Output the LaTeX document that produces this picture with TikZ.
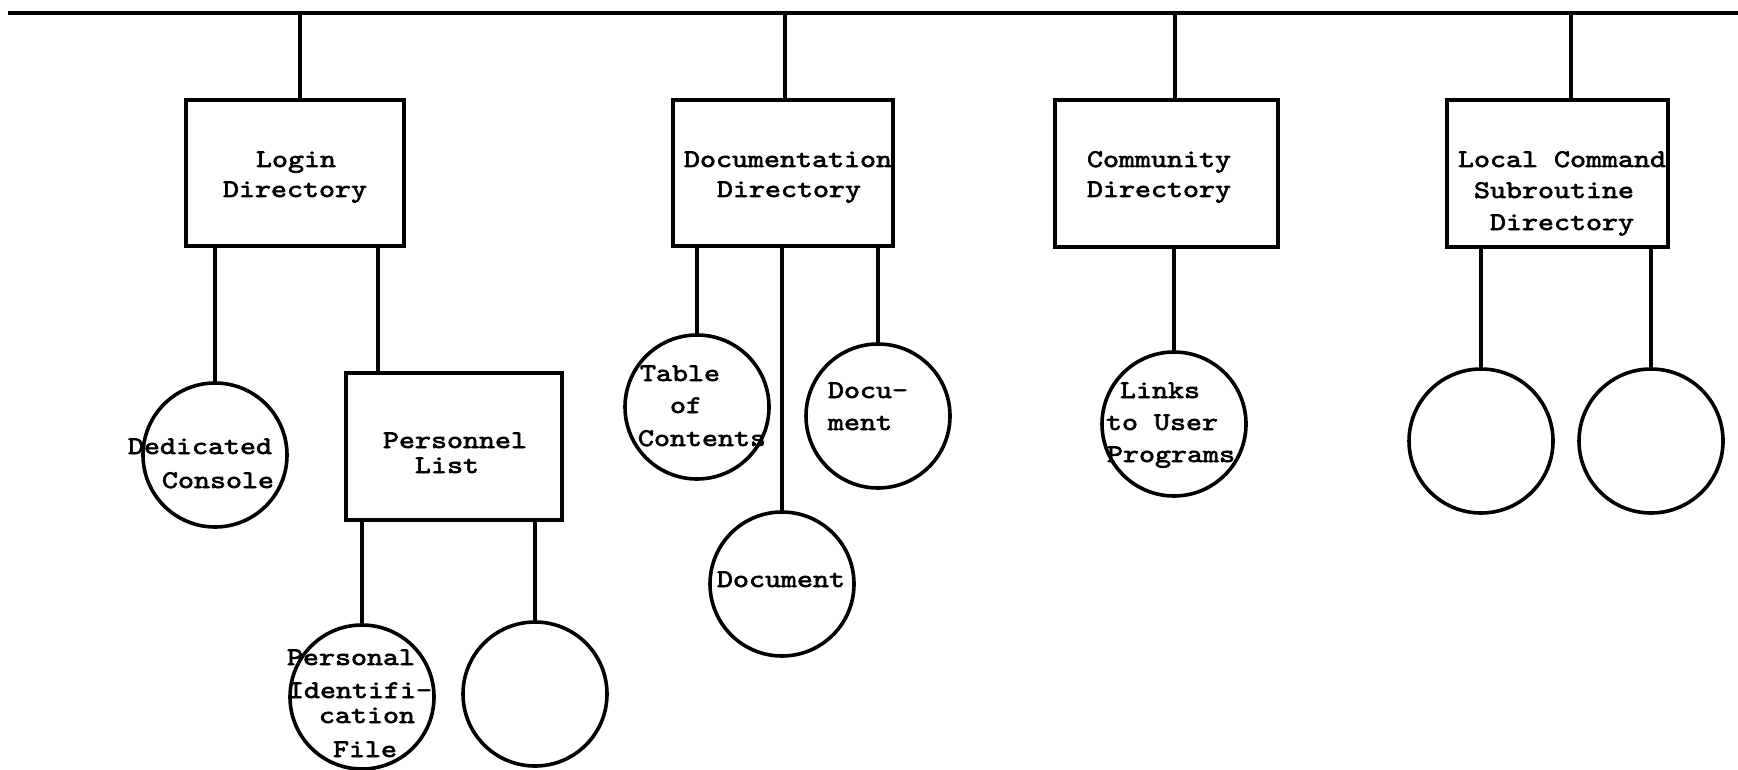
\documentclass[tikz,border=0pt]{standalone}
\usepackage{fontspec}
\newfontfamily\tw{lmmono10-regular}[Extension=.otf,FakeStretch=1.2,FakeBold=2.5]
\usetikzlibrary{fit}
\begin{document}
\begin{tikzpicture}[x=0.5pt,y=-0.5pt,
  dirbox/.style={draw, line width=1.8pt, inner sep=0pt},
  circ/.style={draw, circle, line width=1.8pt, inner sep=0pt, minimum size=72pt},
  bus/.style={line width=2pt},
  stem/.style={line width=1.6pt},
  txt/.style={font=\tw\fontsize{12.7}{15}\selectfont, inner sep=0pt, outer sep=0pt, anchor=base west}]
\fill[white] (0,0) rectangle (1738,770);
\useasboundingbox (0,0) rectangle (1738,770);

% directory boxes
\node[dirbox, fit={(186,100) (404,246)}] (login) {};
\node[dirbox, fit={(673,100) (893,246)}] (docdir) {};
\node[dirbox, fit={(1055,100) (1278,247)}] (comm) {};
\node[dirbox, fit={(1447,100) (1668,247)}] (local) {};
\node[dirbox, fit={(346,373) (562,520)}] (pers) {};

% circles
\node[circ] (dc) at (215,455) {};
\node[circ] (pif) at (362,697) {};
\node[circ] (pe) at (535,694) {};
\node[circ] (toc) at (697,407) {};
\node[circ] (doc) at (782,584) {};
\node[circ] (docu) at (878,416) {};
\node[circ] (links) at (1174,424) {};
\node[circ] (lc1) at (1481,441) {};
\node[circ] (lc2) at (1651,441) {};

% bus
\coordinate (busL) at (8,13);
\coordinate (busR) at (1738,13);
\draw[bus] (busL) -- (busR);
\coordinate (j1) at (300,13);
\coordinate (j2) at (785,13);
\coordinate (j3) at (1175,13);
\coordinate (j4) at (1571,13);
\draw[stem] (j1) -- (j1 |- login.north);
\draw[stem] (j2) -- (j2 |- docdir.north);
\draw[stem] (j3) -- (j3 |- comm.north);
\draw[stem] (j4) -- (j4 |- local.north);

% lower connectors
\coordinate (j5) at (378,300);
\draw[stem] (login.south -| dc.north) -- (dc.north);
\draw[stem] (j5 |- login.south) -- (j5 |- pers.north);
\draw[stem] (pers.south -| pif.north) -- (pif.north);
\draw[stem] (pers.south -| pe.north) -- (pe.north);
\draw[stem] (docdir.south -| toc.north) -- (toc.north);
\draw[stem] (docdir.south -| doc.north) -- (doc.north);
\draw[stem] (docdir.south -| docu.north) -- (docu.north);
\draw[stem] (comm.south -| links.north) -- (links.north);
\draw[stem] (local.south -| lc1.north) -- (lc1.north);
\draw[stem] (local.south -| lc2.north) -- (lc2.north);

% texts
\node[txt] (t1) at (256,167) {Login};
\node[txt] (t2) at (223,197) {Directory};
\node[txt] (t3) at (684,167) {Documentation};
\node[txt] (t4) at (717,197) {Directory};
\node[txt] (t5) at (1087,167) {Community};
\node[txt] (t6) at (1087,197) {Directory};
\node[txt] (t7) at (1458,167) {Local Command};
\node[txt] (t8) at (1474,198) {Subroutine};
\node[txt] (t9) at (1490,230) {Directory};
\node[txt] (t10) at (383,448) {Personnel};
\node[txt] (t11) at (415,473) {List};
\node[txt] (t12) at (128,454) {Dedicated};
\node[txt] (t13) at (162,488) {Console};
\node[txt] (t14) at (287,665) {Personal};
\node[txt] (t15) at (288,698) {Identifi-};
\node[txt] (t16) at (319,723) {cation};
\node[txt] (t17) at (333,757) {File};
\node[txt] (t18) at (640,381) {Table};
\node[txt] (t19) at (670,413) {of};
\node[txt] (t20) at (638,446) {Contents};
\node[txt] (t21) at (828,398) {Docu-};
\node[txt] (t22) at (828,430) {ment};
\node[txt] (t23) at (717,587) {Document};
\node[txt] (t24) at (1120,398) {Links};
\node[txt] (t25) at (1106,430) {to User};
\node[txt] (t26) at (1107,462) {Programs};
\end{tikzpicture}
\end{document}
